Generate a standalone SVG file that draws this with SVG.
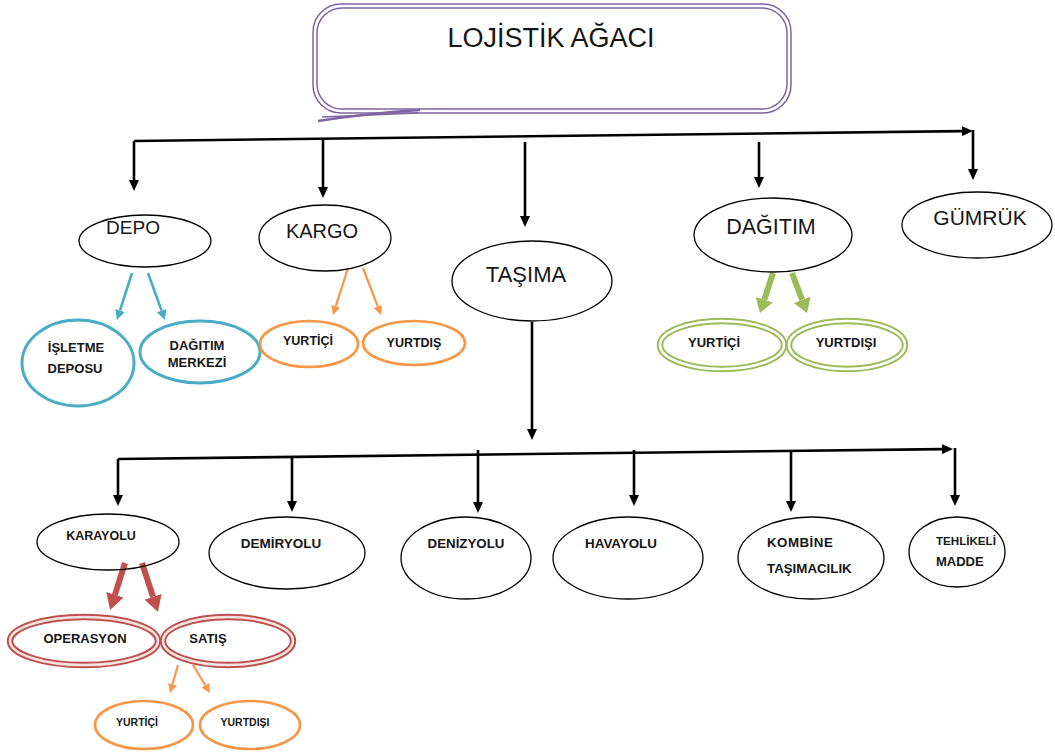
<svg xmlns="http://www.w3.org/2000/svg" width="1055" height="755" viewBox="0 0 1055 755">
<defs>
<style>
text{font-family:"Liberation Sans",Arial,sans-serif;fill:#161616;text-anchor:middle}
.big{font-size:20px}
.sm{font-size:13px;font-weight:bold}
.xs{font-size:10.5px;font-weight:bold}
.lft{text-anchor:start}
.blk{fill:none;stroke:#000;stroke-width:1.3}
.teal{fill:none;stroke:#4bacc6;stroke-width:3}
.org{fill:none;stroke:#f79646;stroke-width:2.6}
.dbl-g{fill:none;stroke:#9bbb59;stroke-width:6.5}
.dbl-r{fill:none;stroke:#c0504d;stroke-width:6.5}
.gap{fill:none;stroke:#fff;stroke-width:2.5}
.gapr{fill:none;stroke:#f6e3e2;stroke-width:2.5}
.cb{stroke:#000;stroke-width:2.6;fill:none;marker-end:url(#mb)}
.ct{stroke:#4bacc6;stroke-width:2.6;fill:none;marker-end:url(#mt)}
.co{stroke:#f79646;stroke-width:2.2;fill:none;marker-end:url(#mo)}
.cg{stroke:#9bbb59;stroke-width:6;fill:none;marker-end:url(#mg)}
.cr{stroke:#c0504d;stroke-width:6;fill:none;marker-end:url(#mr)}
</style>
<marker id="mb" viewBox="0 0 11 10" refX="0" refY="5" markerWidth="11" markerHeight="10" markerUnits="userSpaceOnUse" orient="auto"><path d="M0,0 L11,5 L0,10 z" fill="#000"/></marker>
<marker id="mt" viewBox="0 0 10 10" refX="0" refY="5" markerWidth="10" markerHeight="10" markerUnits="userSpaceOnUse" orient="auto"><path d="M0,0 L10,5 L0,10 z" fill="#4bacc6"/></marker>
<marker id="mo" viewBox="0 0 9 9" refX="0" refY="4.5" markerWidth="9" markerHeight="9" markerUnits="userSpaceOnUse" orient="auto"><path d="M0,0 L9,4.5 L0,9 z" fill="#f79646"/></marker>
<marker id="mg" viewBox="0 0 14 18" refX="0" refY="9" markerWidth="14" markerHeight="18" markerUnits="userSpaceOnUse" orient="auto"><path d="M0,0 L14,9 L0,18 z" fill="#9bbb59"/></marker>
<marker id="mr" viewBox="0 0 16 18" refX="0" refY="9" markerWidth="16" markerHeight="18" markerUnits="userSpaceOnUse" orient="auto"><path d="M0,0 L16,9 L0,18 z" fill="#c0504d"/></marker>
</defs>
<rect width="1055" height="755" fill="#fff"/>

<g id="title">
<rect x="313" y="4" width="478" height="109" rx="28" fill="none" stroke="#8064a2" stroke-width="1.5"/>
<rect x="317" y="8" width="470" height="101" rx="25" fill="none" stroke="#8064a2" stroke-width="1.5"/>
<path d="M318,121 Q370,113 420,110" fill="none" stroke="#8064a2" stroke-width="2.5"/>
<path d="M322,117 L418,113" fill="none" stroke="#8064a2" stroke-width="1.5"/>
<text x="551" y="47" style="font-size:27px">LOJİSTİK AĞACI</text>
</g>

<g id="connectors">
<line class="cb" x1="134" y1="141" x2="962" y2="131.1"/>
<line class="cb" x1="134" y1="141" x2="134" y2="180"/>
<line class="cb" x1="323" y1="140" x2="323" y2="187"/>
<line class="cb" x1="525" y1="142" x2="525" y2="216"/>
<line class="cb" x1="759" y1="142" x2="759" y2="177"/>
<line class="cb" x1="973" y1="130" x2="973" y2="169"/>
<line class="cb" x1="532" y1="322" x2="532" y2="429"/>
<line class="cb" x1="118" y1="459" x2="942" y2="449.1"/>
<line class="cb" x1="118" y1="459" x2="118" y2="495"/>
<line class="cb" x1="292" y1="458" x2="292" y2="501"/>
<line class="cb" x1="478" y1="450" x2="478" y2="502"/>
<line class="cb" x1="634" y1="450" x2="634" y2="495"/>
<line class="cb" x1="791" y1="452" x2="791" y2="501"/>
<line class="cb" x1="955" y1="448" x2="955" y2="495"/>
<line class="ct" x1="132" y1="273" x2="120" y2="310.5"/>
<line class="ct" x1="148" y1="273" x2="161.6" y2="310.6"/>
<line class="co" x1="348" y1="268" x2="335.7" y2="306.4"/>
<line class="co" x1="363" y1="268" x2="377.8" y2="306.6"/>
<line class="cg" x1="773" y1="273" x2="764.3" y2="299.7"/>
<line class="cg" x1="792" y1="273" x2="802.1" y2="299.9"/>
<line class="cr" x1="125" y1="563" x2="114.9" y2="594.8"/>
<line class="cr" x1="142" y1="563" x2="153" y2="596.8"/>
<line class="co" x1="178" y1="665" x2="172.5" y2="684.3"/>
<line class="co" x1="193" y1="665" x2="205.3" y2="685.3"/>
</g>

<g id="depo"><ellipse class="blk" cx="145" cy="241" rx="66" ry="26"/><text class="big" x="133" y="234" style="font-size:19px">DEPO</text></g>
<g id="kargo"><ellipse class="blk" cx="325" cy="238" rx="66" ry="33"/><text class="big" x="322" y="238">KARGO</text></g>
<g id="tasima"><ellipse class="blk" cx="532" cy="281" rx="80" ry="40"/><text class="big" x="526" y="282" style="font-size:22px">TAŞIMA</text></g>
<g id="dagitim"><ellipse class="blk" cx="773" cy="235" rx="79" ry="37"/><text class="big" x="771" y="234" style="font-size:21.5px">DAĞITIM</text></g>
<g id="gumruk"><ellipse class="blk" cx="977" cy="225" rx="75" ry="33"/><text class="big" x="980" y="225" style="font-size:21px">GÜMRÜK</text></g>

<g id="isletme-deposu"><ellipse class="teal" cx="78" cy="363" rx="56" ry="43"/><text class="sm" x="76" y="352">İŞLETME</text><text class="sm" x="75" y="373">DEPOSU</text></g>
<g id="dagitim-merkezi"><ellipse class="teal" cx="200" cy="352" rx="60" ry="31"/><text class="sm" x="197" y="350">DAĞITIM</text><text class="sm" x="197" y="367">MERKEZİ</text></g>
<g id="kargo-yurtici"><ellipse class="org" cx="309" cy="344" rx="49" ry="23"/><text class="sm" x="308" y="345" style="font-size:12.5px">YURTİÇİ</text></g>
<g id="kargo-yurtdis"><ellipse class="org" cx="414" cy="343" rx="51" ry="22"/><text class="sm" x="414" y="347" style="font-size:12.5px">YURTDIŞ</text></g>

<g id="dagitim-yurtici"><ellipse class="dbl-g" cx="722" cy="345" rx="62" ry="24"/><ellipse class="gap" cx="722" cy="345" rx="62" ry="24"/><text class="sm" x="714" y="347">YURTİÇİ</text></g>
<g id="dagitim-yurtdisi"><ellipse class="dbl-g" cx="847" cy="345" rx="58" ry="24"/><ellipse class="gap" cx="847" cy="345" rx="58" ry="24"/><text class="sm" x="846" y="347">YURTDIŞI</text></g>

<g id="karayolu"><ellipse class="blk" cx="108" cy="542" rx="71" ry="28"/><text class="sm" x="101" y="540" style="font-size:12.5px">KARAYOLU</text></g>
<g id="demiryolu"><ellipse class="blk" cx="287" cy="553" rx="78" ry="36"/><text class="sm" x="281" y="548" style="font-size:13.5px">DEMİRYOLU</text></g>
<g id="denizyolu"><ellipse class="blk" cx="466" cy="558" rx="65" ry="41"/><text class="sm" x="466" y="548" style="font-size:13.3px">DENİZYOLU</text></g>
<g id="havayolu"><ellipse class="blk" cx="628" cy="558" rx="75" ry="41"/><text class="sm" x="621" y="548" style="font-size:13.4px">HAVAYOLU</text></g>
<g id="kombine"><ellipse class="blk" cx="811" cy="558" rx="73" ry="41"/><text class="sm lft" x="767" y="547" style="font-size:13.3px;letter-spacing:0.5px">KOMBİNE</text><text class="sm lft" x="767" y="573" style="font-size:13.3px">TAŞIMACILIK</text></g>
<g id="tehlikeli"><ellipse class="blk" cx="957" cy="552" rx="48" ry="35"/><text class="sm lft" x="936" y="545" style="font-size:11.6px">TEHLİKELİ</text><text class="sm lft" x="936" y="566" style="font-size:13px">MADDE</text></g>

<g id="operasyon"><ellipse class="dbl-r" cx="84" cy="641" rx="74" ry="24"/><ellipse class="gapr" cx="84" cy="641" rx="74" ry="24"/><text class="sm" x="85" y="643">OPERASYON</text></g>
<g id="satis"><ellipse class="dbl-r" cx="228" cy="641" rx="65" ry="24"/><ellipse class="gapr" cx="228" cy="641" rx="65" ry="24"/><text class="sm" x="208" y="643">SATIŞ</text></g>
<g id="satis-yurtici"><ellipse class="org" cx="144" cy="725" rx="49" ry="24"/><text class="xs" x="137" y="726">YURTİÇİ</text></g>
<g id="satis-yurtdisi"><ellipse class="org" cx="250" cy="725" rx="50" ry="24"/><text class="xs" x="245" y="726">YURTDIŞI</text></g>
</svg>
